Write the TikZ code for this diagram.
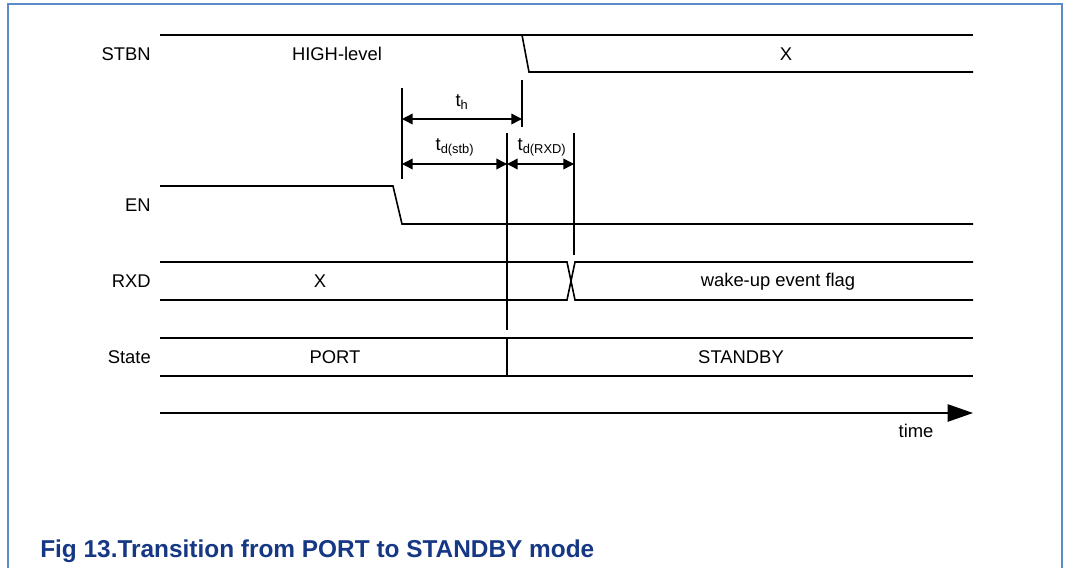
\documentclass[tikz,border=0pt]{standalone}
\usepackage{fontspec}
\setmainfont{Liberation Sans}
\usetikzlibrary{arrows.meta}
\definecolor{frameblue}{HTML}{5B8BC9}
\definecolor{captionblue}{HTML}{163884}

\begin{document}
\begin{tikzpicture}[x=0.75pt,y=-0.75pt,
    wave/.style={line width=1.2pt},
    guide/.style={line width=1.1pt},
    sig/.style={font=\fontsize{13.8}{16}\selectfont,anchor=east,inner sep=0pt},
    val/.style={font=\fontsize{13.8}{16}\selectfont,inner sep=0pt},
    dimarr/.style={{Triangle[length=8pt,width=8pt]}-{Triangle[length=8pt,width=8pt]},
                   line width=1.1pt},
    figcap/.style={font=\bfseries\fontsize{18.3}{21}\selectfont,text=captionblue,
                anchor=west,inner sep=0pt}
  ]
  \useasboundingbox (0,0) rectangle (1066,568);
  \draw[frameblue,line width=1pt] (8,568) -- (8,4) -- (1062,4) -- (1062,568);

  % signals
  \node[sig] (stbn) at (151,54) {STBN};
  \draw[wave] (160,35) -- (973,35);
  \draw[wave] (522,35) -- (529,72) -- (973,72);
  \node[val] (high) at (337,54) {HIGH-level};
  \node[val] (stbnx) at (786,54) {X};

  \node[sig] (en) at (151,205) {EN};
  \draw[wave] (160,186) -- (393,186) -- (402,224) -- (973,224);

  \node[sig] (rxd) at (151,281) {RXD};
  \draw[wave] (160,262) -- (567,262) -- (575,300) -- (973,300);
  \draw[wave] (160,300) -- (567,300) -- (575,262) -- (973,262);
  \node[val] (rxdx) at (320,281) {X};
  \node[val] (flag) at (778,282) {wake-up event flag};

  \node[sig] (state) at (151,357) {State};
  \draw[wave] (160,338) -- (973,338);
  \draw[wave] (160,376) -- (973,376);
  \draw[wave] (507,338) -- (507,376);
  \node[val] (port) at (335,357) {PORT};
  \node[val] (stdby) at (741,357) {STANDBY};

  % timing marks
  \draw[guide] (402,88) -- (402,179);
  \draw[guide] (522,80) -- (522,127);
  \draw[guide] (507,133) -- (507,330);
  \draw[guide] (574,133) -- (574,255);

  \coordinate (thA) at (402,119);
  \coordinate (thB) at (522,119);
  \coordinate (tsA) at (402,164);
  \coordinate (tsB) at (507,164);
  \coordinate (trB) at (574,164);
  \draw[dimarr] (thA) -- (thB);
  \draw[dimarr] (tsA) -- (tsB);
  \draw[dimarr] (tsB) -- (trB);
  \node[val] (th) at (462,102) {t\textsubscript{h}};
  \node[val] (tdstb) at (455,147) {t\textsubscript{d(stb)}};
  \node[val] (tdrxd) at (542,147) {t\textsubscript{d(RXD)}};

  % time axis
  \coordinate (t0) at (160,413);
  \coordinate (t1) at (973,413);
  \draw[line width=1.1pt,-{Triangle[length=19pt,width=13pt]}] (t0) -- (t1);
  \node[val] (time) at (916,431) {time};

  \node[figcap] (caption) at (40,551) {Fig 13.Transition from PORT to STANDBY mode};
\end{tikzpicture}
\end{document}
